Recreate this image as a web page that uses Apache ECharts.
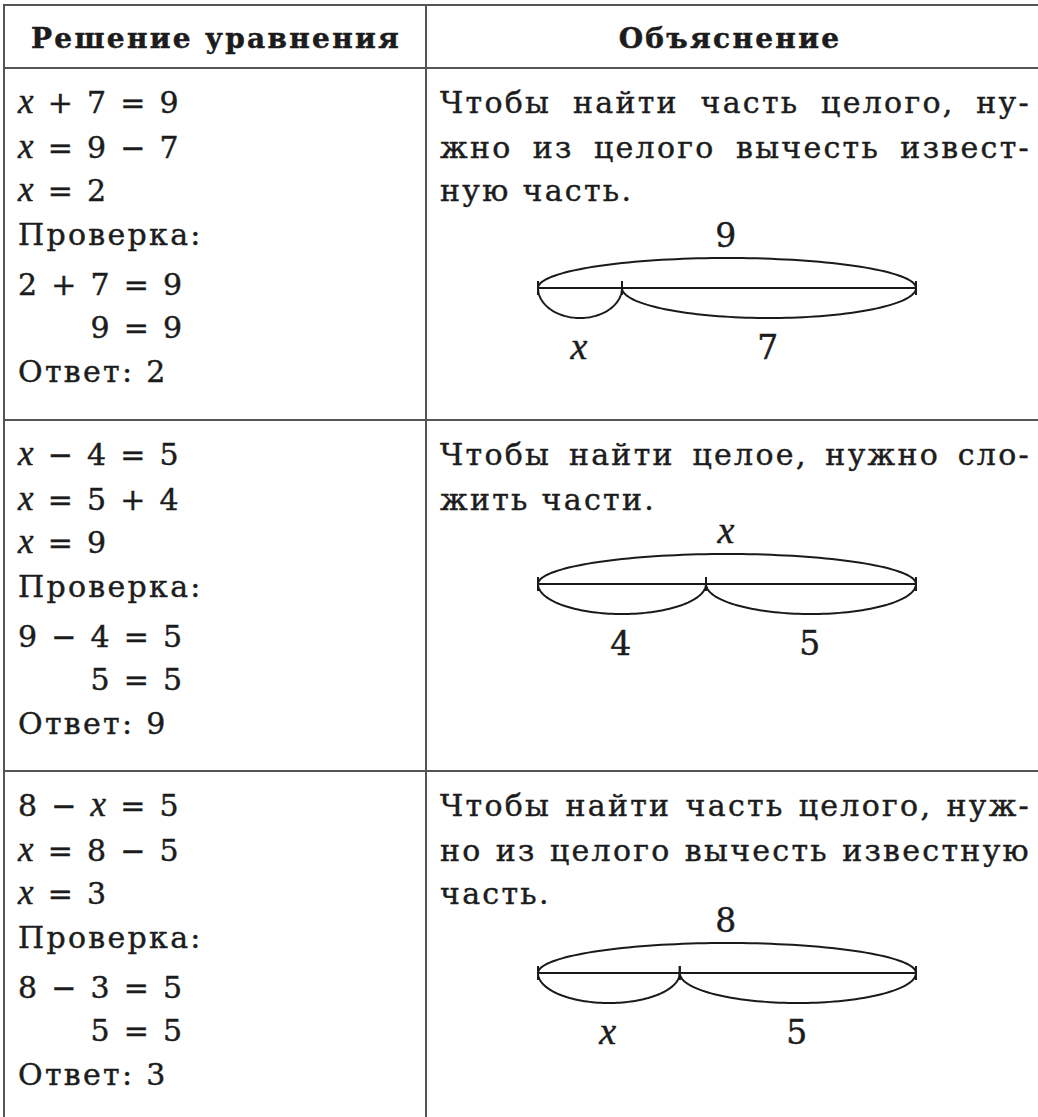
<!DOCTYPE html>
<html><head><meta charset="utf-8">
<script src="https://cdn.jsdelivr.net/npm/echarts@6/dist/echarts.min.js"></script>
<style>
html,body{margin:0;padding:0;background:#fff;}
#chart{width:1038px;height:1117px;}
#chart text{letter-spacing:2.3px;}
</style></head>
<body><div id="chart"></div>
<script>
// ---------- data ----------
const headerTitles = ['Решение уравнения', 'Объяснение'];
const solution1 = ['x + 7 = 9', 'x = 9 − 7', 'x = 2', 'Проверка:', '2 + 7 = 9', '9 = 9', 'Ответ: 2'];
const solution2 = ['x − 4 = 5', 'x = 5 + 4', 'x = 9', 'Проверка:', '9 − 4 = 5', '5 = 5', 'Ответ: 9'];
const solution3 = ['8 − x = 5', 'x = 8 − 5', 'x = 3', 'Проверка:', '8 − 3 = 5', '5 = 5', 'Ответ: 3'];
const explanation1 = ['Чтобы найти часть целого, ну-', 'жно из целого вычесть извест-', 'ную часть.'];
const explanation2 = ['Чтобы найти целое, нужно сло-', 'жить части.'];
const explanation3 = ['Чтобы найти часть целого, нуж-', 'но из целого вычесть известную', 'часть.'];
const diagramParts1 = [2, 7];
const diagramPartLabels1 = ['x', '7'];
const diagramWholeLabel1 = '9';
const diagramParts2 = [4, 5];
const diagramPartLabels2 = ['4', '5'];
const diagramWholeLabel2 = 'x';
const diagramParts3 = [3, 5];
const diagramPartLabels3 = ['x', '5'];
const diagramWholeLabel3 = '8';

// ---------- layout / style ----------
const FAMILY = 'DejaVu Serif', XFAMILY = 'Liberation Serif';
const FS = 30, LS = 2.3, LABEL_FS = 33, HEAD_FS = 28, XBOOST = 5;
const INK = '#1c1c1c', RULE = '#555';
const W = 1038, H = 1117;
const TABLE_L = 4, TABLE_T = 5, COL_X = 426, HEAD_B = 68;
const ROW_TOPS = [68, 420, 771];
const LINE_OFF = [45, 90, 133, 177, 227, 270, 314];
const LEFT_TEXT_X = 18, RIGHT_TEXT_X = 440, RIGHT_TEXT_R = 1031;
const DIAG_OFF = [220, 164, 202];
const DIAG_L = 538, DIAG_W = 378, ARC_D = 30;

const mctx = document.createElement('canvas').getContext('2d');
function fontStr(o) { return (o.italic ? 'italic ' : '') + (o.bold ? 'bold ' : '') + (o.size || FS) + 'px "' + (o.family || FAMILY) + '"'; }
function measure(s, o) { mctx.font = fontStr(o || {}); return mctx.measureText(s).width + LS * s.length; }
const MID = 0.346;      // DejaVu central baseline offset (em)
const XMID = 0.333;     // Liberation Serif central baseline offset (em)

const els = [];
function textEl(s, x, base, o) {
  o = o || {};
  const size = o.size || FS;
  const mid = o.family === XFAMILY ? XMID : MID;
  els.push({
    type: 'text', x: x, y: base - mid * size, silent: true,
    style: {
      text: s, fill: INK, stroke: INK, lineWidth: 0.45, fontFamily: o.family || FAMILY, fontSize: size,
      fontWeight: o.bold ? 'bold' : 'normal', fontStyle: o.italic ? 'italic' : 'normal',
      align: o.align || 'left', verticalAlign: 'middle',
      textAlign: o.align || 'left', textVerticalAlign: 'middle'
    }
  });
}
function lineEl(x1, y1, x2, y2) {
  els.push({ type: 'line', silent: true, shape: { x1, y1, x2, y2 }, style: { stroke: RULE, lineWidth: 2 } });
}

// table rules
lineEl(TABLE_L, TABLE_T, W, TABLE_T);
lineEl(TABLE_L, TABLE_T - 1, TABLE_L, H);
lineEl(COL_X, TABLE_T - 1, COL_X, H);
[HEAD_B, ROW_TOPS[1], ROW_TOPS[2]].forEach(y => lineEl(TABLE_L, y, W, y));

// header
textEl(headerTitles[0], 216, 48, { bold: true, align: 'center', size: HEAD_FS });
textEl(headerTitles[1], 730, 48, { bold: true, align: 'center', size: HEAD_FS });

// equation lines (tokens separated by spaces, latin x as math italic)
const XOPT = { italic: true, family: XFAMILY, size: FS + XBOOST };
function tokOpt(t) { return t === 'x' ? XOPT : {}; }
function tokenWidth(t) { return measure(t, tokOpt(t)); }
function lineWidth(str) {
  const toks = str.split(' ');
  const sp = measure(' ');
  return toks.reduce((a, t) => a + tokenWidth(t), 0) + sp * (toks.length - 1);
}
function drawEquation(str, x, base) {
  const toks = str.split(' ');
  const sp = measure(' ');
  let cx = x;
  toks.forEach(t => {
    textEl(t, cx, base, tokOpt(t));
    cx += tokenWidth(t) + sp;
  });
}
[solution1, solution2, solution3].forEach((lines, r) => {
  const top = ROW_TOPS[r];
  lines.forEach((str, i) => {
    let x = LEFT_TEXT_X;
    if (i === 5) x = LEFT_TEXT_X + lineWidth(lines[4]) - lineWidth(str); // aligned check line
    drawEquation(str, x, top + LINE_OFF[i]);
  });
});

// explanation paragraphs (justified except last line)
[explanation1, explanation2, explanation3].forEach((lines, r) => {
  const top = ROW_TOPS[r];
  lines.forEach((str, i) => {
    const words = str.split(' ');
    const widths = words.map(w => measure(w));
    const sum = widths.reduce((a, b) => a + b, 0);
    const last = i === lines.length - 1;
    const gap = last || words.length < 2 ? measure(' ') : (RIGHT_TEXT_R - RIGHT_TEXT_X - sum) / (words.length - 1);
    let cx = RIGHT_TEXT_X;
    words.forEach((w, k) => { textEl(w, cx, top + LINE_OFF[i]); cx += widths[k] + gap; });
  });
});

// ---------- diagrams (custom series on value axes) ----------
const diagrams = [
  { parts: diagramParts1, labels: diagramPartLabels1, whole: diagramWholeLabel1 },
  { parts: diagramParts2, labels: diagramPartLabels2, whole: diagramWholeLabel2 },
  { parts: diagramParts3, labels: diagramPartLabels3, whole: diagramWholeLabel3 }
];
const grids = [], xAxes = [], yAxes = [], series = [];
diagrams.forEach((d, k) => {
  const lineY = ROW_TOPS[k] + DIAG_OFF[k];
  const total = d.parts.reduce((a, b) => a + b, 0);
  grids.push({ left: DIAG_L, width: DIAG_W, top: lineY - 50, height: 100, containLabel: false });
  xAxes.push({ type: 'value', gridIndex: k, min: 0, max: total, show: false });
  yAxes.push({ type: 'value', gridIndex: k, min: -1, max: 1, show: false });
  const data = [], labels = [];
  let acc = 0;
  d.parts.forEach((v, i) => { data.push([acc, acc + v, 1]); labels.push(d.labels[i]); acc += v; });
  data.push([0, total, -1]); labels.push(d.whole);
  series.push({
    type: 'custom', xAxisIndex: k, yAxisIndex: k, clip: false, silent: true, animation: false,
    data: data,
    renderItem: function (params, api) {
      const s = api.value(0), e = api.value(1), dir = api.value(2);
      const p0 = api.coord([s, 0]), p1 = api.coord([e, 0]);
      const cx = (p0[0] + p1[0]) / 2, a = (p1[0] - p0[0]) / 2, y0 = p0[1];
      const pts = [];
      for (let i = 0; i <= 80; i++) {
        const t = Math.PI * i / 80;
        pts.push([cx - a * Math.cos(t), y0 + dir * ARC_D * Math.sin(t)]);
      }
      const st = { stroke: '#1a1a1a', lineWidth: 2, fill: null };
      const children = [{ type: 'polyline', shape: { points: pts }, style: st }];
      if (dir < 0) children.push({ type: 'line', shape: { x1: p0[0], y1: y0, x2: p1[0], y2: y0 }, style: st });
      children.push({ type: 'line', shape: { x1: p0[0], y1: y0 - 7, x2: p0[0], y2: y0 + 7 }, style: st });
      children.push({ type: 'line', shape: { x1: p1[0], y1: y0 - 7, x2: p1[0], y2: y0 + 7 }, style: st });
      const lab = labels[params.dataIndex];
      const isX = lab === 'x';
      const size = isX ? LABEL_FS + XBOOST : LABEL_FS;
      const base = dir > 0 ? y0 + 71 : y0 - 41;
      children.push({
        type: 'text', x: cx, y: base - (isX ? XMID : MID) * size,
        style: {
          text: lab, fill: INK, stroke: INK, lineWidth: 0.45, fontFamily: isX ? XFAMILY : FAMILY, fontSize: size,
          fontStyle: isX ? 'italic' : 'normal', align: 'center', verticalAlign: 'middle'
        }
      });
      return { type: 'group', children: children };
    }
  });
});

const chart = echarts.init(document.getElementById('chart'), null, { renderer: 'svg', width: W, height: H });
chart.setOption({
  backgroundColor: '#fff',
  animation: false,
  grid: grids, xAxis: xAxes, yAxis: yAxes,
  series: series,
  graphic: { elements: els }
});
</script>
</body></html>
